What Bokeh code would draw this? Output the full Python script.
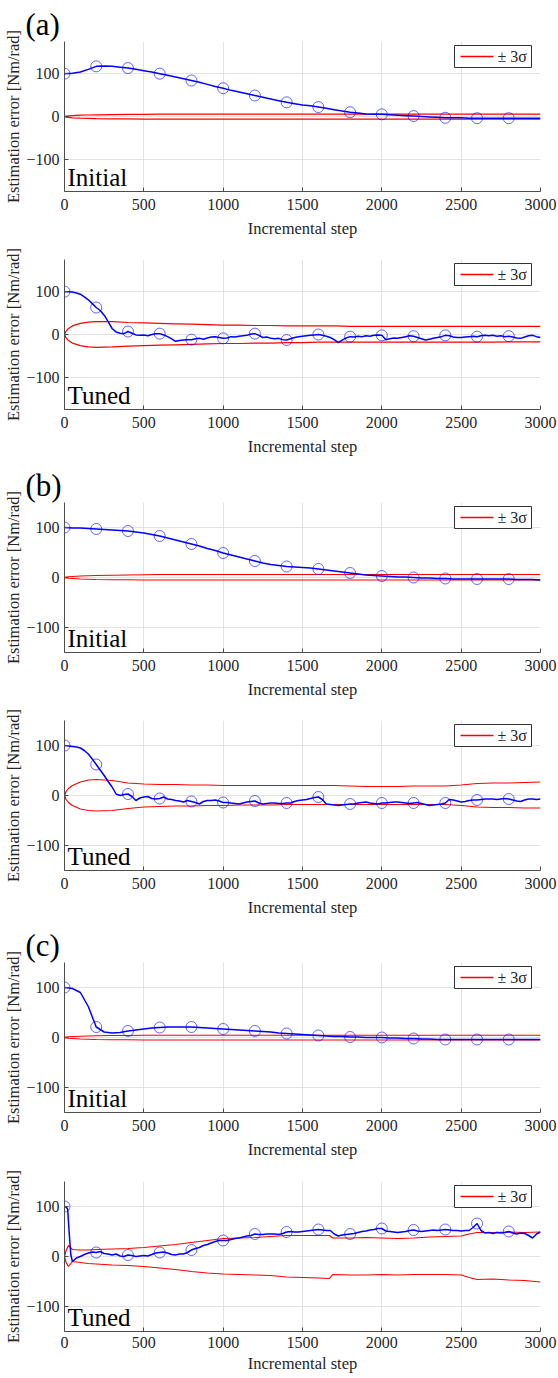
import numpy as np
from bokeh.plotting import figure
from bokeh.models import Label, FixedTicker, Range1d, Title
from bokeh.core.properties import value
from bokeh.layouts import column
from bokeh.embed import file_html
from bokeh.resources import INLINE

FONT = "Liberation Serif"
TXT = "#262626"

X_TICKS = [0, 500, 1000, 1500, 2000, 2500, 3000]
Y_TICKS = [-100, 0, 100]

STEP50 = list(range(0, 3001, 50))
STEP25 = list(range(0, 3001, 25))
C_TUNED_X = [0, 10, 20, 30, 40] + list(range(50, 3001, 25))
SIG_X = [0, 10, 25, 50, 100, 150, 200] + list(range(300, 3001, 100))
C_SIG_X = ([0, 10, 25, 50, 100, 150, 200] + list(range(300, 1601, 100))
           + [1670, 1690] + list(range(1800, 2501, 100)) + [2550]
           + list(range(2600, 3001, 100)))

LEGEND_LABEL = "± 3σ"

# ---------------- (a) ----------------
a_init_est = [100, 101, 104, 110, 117, 118, 117, 115, 113, 110,
              107, 104, 100, 96, 92, 88, 84, 80, 75, 70,
              66, 61, 57, 53, 49, 45, 41, 37, 33, 30,
              27, 25, 22, 19, 16, 13, 10, 8, 6, 5,
              5, 4, 3, 2, 1, 0, -1, -2, -3, -3,
              -3, -4, -4, -4, -4, -4, -4, -4, -4, -4,
              -4]
a_init_up = [0, 1, 1.5, 2, 3, 3.5, 4,
             4.5, 5, 5] + [5.5] * 25
a_init_lo = [0, -1.5, -2, -3, -4, -4.5, -5,
             -5.5, -5.5] + [-6] * 26

a_tuned_est = [100, 100, 99, 97, 94, 88, 81, 72, 63, 56,
               45, 30, 14, 6, 3, 2, 7, 3, -1, -2,
               -1, -3, 0, 2, 2, -1, -5, -10, -16, -14,
               -13, -12, -12, -10, -9, -11, -8, -6, -5, -7,
               -9, -8, -5, -6, -4, -3, -2, 1, 2, -2,
               -7, -6, -9, -10, -9, -12, -13, -10, -7, -5,
               -4, -3, -2, -1, 0, -2, -4, -7, -12, -19,
               -13, -8, -5, -6, -4, -5, -3, -4, -2, -1,
               -2, -12, -10, -8, -9, -7, -5, -3, -4, -7,
               -10, -13, -11, -9, -7, -5, -2, -3, -6, -7,
               -7, -6, -5, -4, -5, -3, -2, -3, -2, -4,
               -3, -5, -4, -6, -8, -9, -6, -3, -2, -5,
               -7]
a_tuned_up = [0, 8, 14, 20, 26, 29, 30,
              30, 28, 27, 26, 25, 24, 23, 22, 22, 21, 21, 20, 20, 20, 20,
              19, 19, 19, 19, 19, 19, 19, 19, 19, 19, 19, 19, 19]
a_tuned_lo = [0, -8, -14, -20, -26, -29, -30,
              -29, -27, -26, -25, -24, -23, -22, -21, -21, -20, -20, -19, -19,
              -18, -18, -18, -18, -18, -18, -18, -18, -18, -18, -18, -18,
              -17, -17, -17]

# ---------------- (b) ----------------
b_init_est = [100, 99, 99, 98, 97, 96, 95, 94, 93, 91,
              89, 86, 83, 79, 75, 71, 67, 63, 58, 54,
              49, 45, 41, 37, 33, 29, 26, 24, 22, 21,
              20, 19, 17, 15, 13, 11, 9, 7, 5, 4,
              3, 2, 1, 1, 0, -1, -1, -2, -2, -3,
              -3, -3, -3, -3, -3, -3, -3, -4, -4, -4,
              -5]
b_init_up = [0, 1, 1.5, 2, 3, 3.5, 4,
             4.5, 5, 5.5] + [6] * 25
b_init_lo = [0, -1, -1.5, -2, -3, -3.5, -4,
             -4.5, -4.5] + [-5] * 26

b_tuned_est = [100, 99, 98, 97, 95, 90, 83, 73, 62, 51,
               40, 28, 17, 3, 0, 2, 3, -2, -10, -5,
               -3, -2, -6, -7, -6, -3, -7, -8, -10, -11,
               -13, -10, -12, -14, -17, -12, -10, -10, -9, -11,
               -14, -14, -15, -16, -17, -15, -13, -12, -11, -15,
               -17, -16, -15, -15, -16, -16, -15, -15, -12, -10,
               -9, -8, -6, -4, -3, -8, -17, -18, -19, -20,
               -19, -18, -17, -17, -15, -14, -13, -15, -16, -17,
               -15, -15, -14, -13, -13, -14, -15, -16, -15, -14,
               -16, -18, -20, -19, -18, -17, -15, -8, -9, -11,
               -13, -12, -10, -9, -9, -8, -7, -7, -7, -8,
               -7, -6, -7, -9, -11, -12, -9, -7, -7, -8,
               -7]
b_tuned_up = [0, 8, 14, 20, 27, 31, 32,
              30, 25, 23, 22, 22, 21, 21, 20, 20, 20, 20, 20, 20, 20, 20,
              19, 18, 18, 18, 19, 19, 19, 21, 24, 25, 25, 26, 27]
b_tuned_lo = [0, -8, -14, -20, -27, -30, -31,
              -30, -26, -23, -22, -21, -21, -20, -20, -19, -19, -19, -18, -18,
              -18, -18, -18, -18, -18, -18, -18, -18, -18, -20, -23, -24,
              -24, -25, -25]

# ---------------- (c) ----------------
c_init_est = [100, 98, 90, 62, 21, 11, 9, 10, 13, 15,
              17, 19, 20, 21, 21, 21, 21, 20, 19, 18,
              17, 16, 15, 14, 13, 12, 11, 9, 8, 7,
              6, 5, 4, 3, 2, 2, 1, 1, 0, 0,
              0, -1, -1, -2, -2, -3, -3, -4, -4, -4,
              -4, -4, -4, -4, -4, -4, -4, -4, -4, -4,
              -4]
c_init_up = [0, 1, 1.5, 2, 2.5, 3, 3.5,
             4, 4, 4.5] + [4.5] * 25
c_init_lo = [0, -1, -1.5, -2, -3, -3.5, -4,
             -4.5, -4.5] + [-5] * 26

c_tuned_est = [100, 99, 95, 45, 3,
               -10, -3, 0, 4, 7, 9, 8, 10, 6, 5,
               3, 5, 1, 0, 3, 2, 0, 1, 2, 1,
               4, 7, 8, 9, 7, 4, 3, 5, 5, 8,
               13, 16, 18, 22, 24, 27, 30, 32, 32, 32,
               34, 36, 37, 39, 41, 42, 45, 44, 44, 45,
               45, 45, 44, 46, 49, 50, 49, 49, 50, 51,
               52, 53, 54, 53, 52, 52, 45, 41, 43, 44,
               45, 46, 48, 50, 51, 53, 54, 56, 56, 51,
               50, 49, 48, 49, 50, 52, 53, 51, 50, 51,
               52, 53, 52, 53, 54, 53, 52, 52, 51, 52,
               52, 58, 66, 52, 47, 48, 46, 48, 47, 48,
               50, 47, 45, 47, 46, 42, 37, 45, 49]
c_tuned_up = [0, 12, 22, 14, 13, 13, 14,
              15, 16, 18, 21, 24, 28, 32, 36, 37, 38, 40, 42, 42, 42,
              42, 37, 37, 38, 37, 36, 37, 39, 40, 41, 45, 48, 48, 49, 48, 49]
c_tuned_lo = [0, -12, -20, -10, -12, -14, -15,
              -17, -18, -20, -23, -26, -30, -33, -35, -36, -37, -38, -41, -42,
              -43, -44, -36, -37, -37, -36, -37, -36, -36, -36, -37, -42, -46,
              -45, -47, -48, -51]

PANELS = [
    dict(ex=STEP50, ey=a_init_est, sx=SIG_X, up=a_init_up, lo=a_init_lo, ylim=175,
         tag="Initial", letter="(a)", top=41, bottom=52, height=243),
    dict(ex=STEP25, ey=a_tuned_est, sx=SIG_X, up=a_tuned_up, lo=a_tuned_lo, ylim=175,
         tag="Tuned", letter=None, top=16, bottom=52, height=218),
    dict(ex=STEP50, ey=b_init_est, sx=SIG_X, up=b_init_up, lo=b_init_lo, ylim=150,
         tag="Initial", letter="(b)", top=41, bottom=52, height=243),
    dict(ex=STEP25, ey=b_tuned_est, sx=SIG_X, up=b_tuned_up, lo=b_tuned_lo, ylim=150,
         tag="Tuned", letter=None, top=16, bottom=52, height=218),
    dict(ex=STEP50, ey=c_init_est, sx=SIG_X, up=c_init_up, lo=c_init_lo, ylim=150,
         tag="Initial", letter="(c)", top=40, bottom=52, height=242),
    dict(ex=C_TUNED_X, ey=c_tuned_est, sx=C_SIG_X, up=c_tuned_up, lo=c_tuned_lo, ylim=150,
         tag="Tuned", letter=None, top=17, bottom=47, height=214),
]


def build(spec, last=False):
    ylim = spec["ylim"]
    p = figure(width=558, height=spec["height"], title=None,
               x_range=Range1d(0, 3000), y_range=Range1d(-ylim, ylim),
               output_backend="svg", toolbar_location=None,
               min_border_left=64, min_border_right=18,
               min_border_top=spec["top"], min_border_bottom=spec["bottom"])
    p.outline_line_color = None
    p.background_fill_color = "white"
    p.border_fill_color = "white"

    for ax in (p.xaxis[0], p.yaxis[0]):
        ax.axis_line_color = "#4d4d4d"
        ax.axis_line_width = 1
        ax.major_tick_line_color = "#4d4d4d"
        ax.major_tick_in = 4
        ax.major_tick_out = 0
        ax.minor_tick_line_color = None
        ax.major_label_text_font = FONT
        ax.major_label_text_font_size = "16px"
        ax.major_label_text_color = TXT
        ax.axis_label_text_font = FONT
        ax.axis_label_text_font_size = "16.5px"
        ax.axis_label_text_font_style = "normal"
        ax.axis_label_text_color = TXT
    p.xaxis.ticker = FixedTicker(ticks=X_TICKS)
    p.yaxis.ticker = FixedTicker(ticks=Y_TICKS)
    p.xgrid.ticker = FixedTicker(ticks=X_TICKS)
    p.ygrid.ticker = FixedTicker(ticks=Y_TICKS)
    p.xgrid.grid_line_color = "#e3e3e3"
    p.ygrid.grid_line_color = "#e3e3e3"
    p.xaxis.axis_label = "Incremental step"
    p.yaxis.axis_label = "Estimation error [Nm/rad]"
    p.yaxis.major_label_standoff = 5
    p.yaxis.axis_label_standoff = 0
    if last:
        p.xaxis.major_label_standoff = 5
        p.xaxis.axis_label_standoff = 3
    else:
        p.xaxis.major_label_standoff = 7
        p.xaxis.axis_label_standoff = 6

    p.line(spec["sx"], spec["up"], line_color="#ff0000", line_width=1.2)
    p.line(spec["sx"], spec["lo"], line_color="#ff0000", line_width=1.2)
    p.line(spec["ex"], spec["ey"], line_color="#0000ff", line_width=1.5)

    mx = [x for x in spec["ex"] if x % 200 == 0 and x <= 2800]
    my = [y for x, y in zip(spec["ex"], spec["ey"]) if x % 200 == 0 and x <= 2800]
    p.scatter(mx, my, marker="circle", size=11, fill_color=None,
              line_color="#0000ff", line_alpha=0.6, line_width=1)

    ypp = 2.0 * ylim / 150.0
    xpp = 3000.0 / 476.0

    # legend box (drawn by hand inside the frame, top-right)
    p.quad(left=[(454 - 64) * xpp], right=[(531 - 64) * xpp],
           top=[ylim - 4 * ypp], bottom=[ylim - 26 * ypp],
           fill_color="white", line_color="#333333", line_width=1)
    yc = ylim - 15 * ypp
    p.quad(left=[(460 - 64) * xpp], right=[(493 - 64) * xpp],
           top=[yc + 0.65 * ypp], bottom=[yc - 0.65 * ypp],
           fill_color="#ff0000", line_color=None)
    p.text([(497 - 64) * xpp], [yc], text=[LEGEND_LABEL],
           text_font=value(FONT), text_font_size="16px", text_color=TXT,
           text_align="left", text_baseline="middle")

    p.add_layout(Label(x=3 * xpp, y=-ylim + 0.5 * ypp, text=spec["tag"],
                       text_font=FONT, text_font_size="25px", text_color="black",
                       text_align="left", text_baseline="bottom"))
    if spec["letter"]:
        p.add_layout(Title(text=spec["letter"], align="left", offset=-39,
                           standoff=0, text_font=FONT, text_font_size="31px",
                           text_font_style="normal", text_color="black"), "above")
    return p


figs = [build(s, last=(i == len(PANELS) - 1)) for i, s in enumerate(PANELS)]
layout = column(*figs, spacing=0)

open("out.html", "w").write(file_html(layout, INLINE))
